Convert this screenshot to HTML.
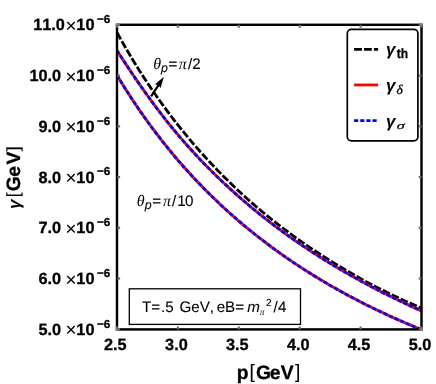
<!DOCTYPE html>
<html><head><meta charset="utf-8">
<style>
html,body{margin:0;padding:0;background:#fff;overflow:hidden;}
svg{display:block;will-change:transform;}
text{font-family:"Liberation Sans",sans-serif;fill:#000;text-rendering:geometricPrecision;font-kerning:none;}
</style></head><body>
<svg width="436" height="384" viewBox="0 0 436 384">
<rect width="436" height="384" fill="#fff"/>
<clipPath id="cp"><rect x="117" y="24" width="305" height="306"/></clipPath>
<g clip-path="url(#cp)" fill="none">
<path d="M117.00,32.54 L120.85,39.47 L124.71,46.22 L128.56,52.81 L132.42,59.25 L136.27,65.53 L140.13,71.66 L143.98,77.66 L147.84,83.51 L151.69,89.24 L155.54,94.83 L159.40,100.31 L163.25,105.66 L167.11,110.90 L170.96,116.02 L174.82,121.04 L178.67,125.95 L182.53,130.76 L186.38,135.47 L190.23,140.09 L194.09,144.61 L197.94,149.04 L201.80,153.38 L205.65,157.64 L209.51,161.82 L213.36,165.91 L217.22,169.93 L221.07,173.87 L224.92,177.74 L228.78,181.53 L232.63,185.26 L236.49,188.91 L240.34,192.50 L244.20,196.02 L248.05,199.48 L251.91,202.88 L255.76,206.22 L259.61,209.50 L263.47,212.72 L267.32,215.88 L271.18,218.98 L275.03,222.03 L278.89,225.04 L282.74,227.99 L286.59,230.89 L290.45,233.75 L294.30,236.55 L298.16,239.32 L302.01,242.03 L305.87,244.71 L309.72,247.34 L313.58,249.94 L317.43,252.49 L321.28,255.00 L325.14,257.48 L328.99,259.92 L332.85,262.32 L336.70,264.69 L340.56,267.01 L344.41,269.31 L348.27,271.57 L352.12,273.79 L355.97,275.98 L359.83,278.14 L363.68,280.27 L367.54,282.36 L371.39,284.41 L375.25,286.42 L379.10,288.41 L382.96,290.36 L386.81,292.28 L390.66,294.17 L394.52,296.03 L398.37,297.86 L402.23,299.66 L406.08,301.42 L409.94,303.15 L413.79,304.86 L417.65,306.54 L421.50,308.19" stroke="#000" stroke-width="2.8" stroke-dasharray="7.8 2.1"/>
<path d="M117.00,75.17 L120.85,81.53 L124.71,87.74 L128.56,93.80 L132.42,99.72 L136.27,105.49 L140.13,111.13 L143.98,116.64 L147.84,122.02 L151.69,127.28 L155.54,132.43 L159.40,137.46 L163.25,142.38 L167.11,147.19 L170.96,151.91 L174.82,156.52 L178.67,161.04 L182.53,165.46 L186.38,169.80 L190.23,174.05 L194.09,178.21 L197.94,182.29 L201.80,186.29 L205.65,190.21 L209.51,194.05 L213.36,197.82 L217.22,201.52 L221.07,205.15 L224.92,208.71 L228.78,212.21 L232.63,215.64 L236.49,219.01 L240.34,222.32 L244.20,225.57 L248.05,228.76 L251.91,231.89 L255.76,234.97 L259.61,238.00 L263.47,240.98 L267.32,243.90 L271.18,246.78 L275.03,249.61 L278.89,252.39 L282.74,255.12 L286.59,257.82 L290.45,260.46 L294.30,263.06 L298.16,265.62 L302.01,268.14 L305.87,270.61 L309.72,273.05 L313.58,275.45 L317.43,277.81 L321.28,280.13 L325.14,282.42 L328.99,284.67 L332.85,286.89 L336.70,289.07 L340.56,291.22 L344.41,293.34 L348.27,295.42 L352.12,297.48 L355.97,299.50 L359.83,301.50 L363.68,303.47 L367.54,305.40 L371.39,307.30 L375.25,309.18 L379.10,311.02 L382.96,312.84 L386.81,314.63 L390.66,316.40 L394.52,318.14 L398.37,319.86 L402.23,321.55 L406.08,323.21 L409.94,324.86 L413.79,326.47 L417.65,328.07 L421.50,329.64" stroke="#f00" stroke-width="2.8"/>
<path d="M117.00,75.17 L120.85,81.53 L124.71,87.74 L128.56,93.80 L132.42,99.72 L136.27,105.49 L140.13,111.13 L143.98,116.64 L147.84,122.02 L151.69,127.28 L155.54,132.43 L159.40,137.46 L163.25,142.38 L167.11,147.19 L170.96,151.91 L174.82,156.52 L178.67,161.04 L182.53,165.46 L186.38,169.80 L190.23,174.05 L194.09,178.21 L197.94,182.29 L201.80,186.29 L205.65,190.21 L209.51,194.05 L213.36,197.82 L217.22,201.52 L221.07,205.15 L224.92,208.71 L228.78,212.21 L232.63,215.64 L236.49,219.01 L240.34,222.32 L244.20,225.57 L248.05,228.76 L251.91,231.89 L255.76,234.97 L259.61,238.00 L263.47,240.98 L267.32,243.90 L271.18,246.78 L275.03,249.61 L278.89,252.39 L282.74,255.12 L286.59,257.82 L290.45,260.46 L294.30,263.06 L298.16,265.62 L302.01,268.14 L305.87,270.61 L309.72,273.05 L313.58,275.45 L317.43,277.81 L321.28,280.13 L325.14,282.42 L328.99,284.67 L332.85,286.89 L336.70,289.07 L340.56,291.22 L344.41,293.34 L348.27,295.42 L352.12,297.48 L355.97,299.50 L359.83,301.50 L363.68,303.47 L367.54,305.40 L371.39,307.30 L375.25,309.18 L379.10,311.02 L382.96,312.84 L386.81,314.63 L390.66,316.40 L394.52,318.14 L398.37,319.86 L402.23,321.55 L406.08,323.21 L409.94,324.86 L413.79,326.47 L417.65,328.07 L421.50,329.64" stroke="#00f" stroke-width="2.8" stroke-dasharray="4.1 2.05"/>
<path d="M117.00,50.38 L120.85,56.43 L124.71,62.37 L128.56,68.23 L132.42,74.00 L136.27,79.65 L140.13,85.19 L143.98,90.65 L147.84,96.06 L151.69,101.38 L155.54,106.58 L159.40,111.68 L163.25,116.66 L167.11,121.55 L170.96,126.33 L174.82,131.01 L178.67,135.60 L182.53,140.09 L186.38,144.49 L190.23,148.80 L194.09,153.02 L197.94,157.17 L201.80,161.23 L205.65,165.21 L209.51,169.12 L213.36,172.95 L217.22,176.72 L221.07,180.43 L224.92,184.07 L228.78,187.64 L232.63,191.15 L236.49,194.60 L240.34,197.98 L244.20,201.31 L248.05,204.59 L251.91,207.81 L255.76,210.98 L259.61,214.10 L263.47,217.17 L267.32,220.18 L271.18,223.15 L275.03,226.07 L278.89,228.95 L282.74,231.78 L286.59,234.57 L290.45,237.32 L294.30,240.03 L298.16,242.69 L302.01,245.31 L305.87,247.90 L309.72,250.45 L313.58,252.96 L317.43,255.43 L321.28,257.87 L325.14,260.28 L328.99,262.65 L332.85,264.98 L336.70,267.29 L340.56,269.56 L344.41,271.80 L348.27,274.02 L352.12,276.20 L355.97,278.35 L359.83,280.47 L363.68,282.57 L367.54,284.63 L371.39,286.67 L375.25,288.68 L379.10,290.67 L382.96,292.63 L386.81,294.56 L390.66,296.47 L394.52,298.35 L398.37,300.21 L402.23,302.05 L406.08,303.86 L409.94,305.64 L413.79,307.41 L417.65,309.15 L421.50,310.88" stroke="#f00" stroke-width="2.8"/>
<path d="M117.00,50.38 L120.85,56.43 L124.71,62.37 L128.56,68.23 L132.42,74.00 L136.27,79.65 L140.13,85.19 L143.98,90.65 L147.84,96.06 L151.69,101.38 L155.54,106.58 L159.40,111.68 L163.25,116.66 L167.11,121.55 L170.96,126.33 L174.82,131.01 L178.67,135.60 L182.53,140.09 L186.38,144.49 L190.23,148.80 L194.09,153.02 L197.94,157.17 L201.80,161.23 L205.65,165.21 L209.51,169.12 L213.36,172.95 L217.22,176.72 L221.07,180.43 L224.92,184.07 L228.78,187.64 L232.63,191.15 L236.49,194.60 L240.34,197.98 L244.20,201.31 L248.05,204.59 L251.91,207.81 L255.76,210.98 L259.61,214.10 L263.47,217.17 L267.32,220.18 L271.18,223.15 L275.03,226.07 L278.89,228.95 L282.74,231.78 L286.59,234.57 L290.45,237.32 L294.30,240.03 L298.16,242.69 L302.01,245.31 L305.87,247.90 L309.72,250.45 L313.58,252.96 L317.43,255.43 L321.28,257.87 L325.14,260.28 L328.99,262.65 L332.85,264.98 L336.70,267.29 L340.56,269.56 L344.41,271.80 L348.27,274.02 L352.12,276.20 L355.97,278.35 L359.83,280.47 L363.68,282.57 L367.54,284.63 L371.39,286.67 L375.25,288.68 L379.10,290.67 L382.96,292.63 L386.81,294.56 L390.66,296.47 L394.52,298.35 L398.37,300.21 L402.23,302.05 L406.08,303.86 L409.94,305.64 L413.79,307.41 L417.65,309.15 L421.50,310.88" stroke="#00f" stroke-width="2.8" stroke-dasharray="4.1 2.05"/>
</g>
<!-- frame -->
<rect x="117" y="24.8" width="304.5" height="304.6" fill="none" stroke="#000" stroke-width="2.45"/>
<rect x="115.9" y="326.5" width="2.2" height="2.9" fill="#6c6c6c"/>
<rect x="115.9" y="24.8" width="2.2" height="2.9" fill="#6c6c6c"/>
<rect x="176.8" y="326.5" width="2.2" height="2.9" fill="#6c6c6c"/>
<rect x="176.8" y="24.8" width="2.2" height="2.9" fill="#6c6c6c"/>
<rect x="237.7" y="326.5" width="2.2" height="2.9" fill="#6c6c6c"/>
<rect x="237.7" y="24.8" width="2.2" height="2.9" fill="#6c6c6c"/>
<rect x="298.6" y="326.5" width="2.2" height="2.9" fill="#6c6c6c"/>
<rect x="298.6" y="24.8" width="2.2" height="2.9" fill="#6c6c6c"/>
<rect x="359.5" y="326.5" width="2.2" height="2.9" fill="#6c6c6c"/>
<rect x="359.5" y="24.8" width="2.2" height="2.9" fill="#6c6c6c"/>
<rect x="420.4" y="326.5" width="2.2" height="2.9" fill="#6c6c6c"/>
<rect x="420.4" y="24.8" width="2.2" height="2.9" fill="#6c6c6c"/>
<rect x="117.3" y="328.2" width="2.8" height="2.2" fill="#6c6c6c"/>
<rect x="418.7" y="328.2" width="2.8" height="2.2" fill="#6c6c6c"/>
<rect x="117.3" y="277.4" width="2.8" height="2.2" fill="#6c6c6c"/>
<rect x="418.7" y="277.4" width="2.8" height="2.2" fill="#6c6c6c"/>
<rect x="117.3" y="226.7" width="2.8" height="2.2" fill="#6c6c6c"/>
<rect x="418.7" y="226.7" width="2.8" height="2.2" fill="#6c6c6c"/>
<rect x="117.3" y="176.0" width="2.8" height="2.2" fill="#6c6c6c"/>
<rect x="418.7" y="176.0" width="2.8" height="2.2" fill="#6c6c6c"/>
<rect x="117.3" y="125.2" width="2.8" height="2.2" fill="#6c6c6c"/>
<rect x="418.7" y="125.2" width="2.8" height="2.2" fill="#6c6c6c"/>
<rect x="117.3" y="74.5" width="2.8" height="2.2" fill="#6c6c6c"/>
<rect x="418.7" y="74.5" width="2.8" height="2.2" fill="#6c6c6c"/>
<rect x="117.3" y="23.7" width="2.8" height="2.2" fill="#6c6c6c"/>
<rect x="418.7" y="23.7" width="2.8" height="2.2" fill="#6c6c6c"/>
<rect x="115.75" y="23.60" width="2.5" height="2.4" fill="#808080"/>
<rect x="420.25" y="23.60" width="2.5" height="2.4" fill="#808080"/>
<rect x="115.75" y="328.20" width="2.5" height="2.4" fill="#808080"/>
<rect x="420.25" y="328.20" width="2.5" height="2.4" fill="#808080"/>
<text x="38.51" y="334.90" style="font-weight:bold;stroke:#000;stroke-width:0.3px;font-size:16.3px" >5.0</text>
<text x="65.41" y="336.40" style="stroke:#000;stroke-width:0.08px;font-size:18.8px" stroke="#000" stroke-width="0.35">×</text>
<text x="76.37" y="334.90" style="font-weight:bold;stroke:#000;stroke-width:0.3px;font-size:16.3px" >10</text>
<text x="97.02" y="327.50" style="font-weight:bold;stroke:#000;stroke-width:0.3px;font-size:11.6px" >−6</text>
<text x="38.51" y="284.15" style="font-weight:bold;stroke:#000;stroke-width:0.3px;font-size:16.3px" >6.0</text>
<text x="65.41" y="285.65" style="stroke:#000;stroke-width:0.08px;font-size:18.8px" stroke="#000" stroke-width="0.35">×</text>
<text x="76.37" y="284.15" style="font-weight:bold;stroke:#000;stroke-width:0.3px;font-size:16.3px" >10</text>
<text x="97.02" y="276.75" style="font-weight:bold;stroke:#000;stroke-width:0.3px;font-size:11.6px" >−6</text>
<text x="38.51" y="233.40" style="font-weight:bold;stroke:#000;stroke-width:0.3px;font-size:16.3px" >7.0</text>
<text x="65.41" y="234.90" style="stroke:#000;stroke-width:0.08px;font-size:18.8px" stroke="#000" stroke-width="0.35">×</text>
<text x="76.37" y="233.40" style="font-weight:bold;stroke:#000;stroke-width:0.3px;font-size:16.3px" >10</text>
<text x="97.02" y="226.00" style="font-weight:bold;stroke:#000;stroke-width:0.3px;font-size:11.6px" >−6</text>
<text x="38.51" y="182.65" style="font-weight:bold;stroke:#000;stroke-width:0.3px;font-size:16.3px" >8.0</text>
<text x="65.41" y="184.15" style="stroke:#000;stroke-width:0.08px;font-size:18.8px" stroke="#000" stroke-width="0.35">×</text>
<text x="76.37" y="182.65" style="font-weight:bold;stroke:#000;stroke-width:0.3px;font-size:16.3px" >10</text>
<text x="97.02" y="175.25" style="font-weight:bold;stroke:#000;stroke-width:0.3px;font-size:11.6px" >−6</text>
<text x="38.51" y="131.90" style="font-weight:bold;stroke:#000;stroke-width:0.3px;font-size:16.3px" >9.0</text>
<text x="65.41" y="133.40" style="stroke:#000;stroke-width:0.08px;font-size:18.8px" stroke="#000" stroke-width="0.35">×</text>
<text x="76.37" y="131.90" style="font-weight:bold;stroke:#000;stroke-width:0.3px;font-size:16.3px" >10</text>
<text x="97.02" y="124.50" style="font-weight:bold;stroke:#000;stroke-width:0.3px;font-size:11.6px" >−6</text>
<text x="29.44" y="81.15" style="font-weight:bold;stroke:#000;stroke-width:0.3px;font-size:16.3px" >10.0</text>
<text x="65.41" y="82.65" style="stroke:#000;stroke-width:0.08px;font-size:18.8px" stroke="#000" stroke-width="0.35">×</text>
<text x="76.37" y="81.15" style="font-weight:bold;stroke:#000;stroke-width:0.3px;font-size:16.3px" >10</text>
<text x="97.02" y="73.75" style="font-weight:bold;stroke:#000;stroke-width:0.3px;font-size:11.6px" >−6</text>
<text x="33.14" y="30.40" style="font-weight:bold;stroke:#000;stroke-width:0.3px;font-size:16.3px" >11.0</text>
<text x="65.41" y="31.90" style="stroke:#000;stroke-width:0.08px;font-size:18.8px" stroke="#000" stroke-width="0.35">×</text>
<text x="76.37" y="30.40" style="font-weight:bold;stroke:#000;stroke-width:0.3px;font-size:16.3px" >10</text>
<text x="97.02" y="23.00" style="font-weight:bold;stroke:#000;stroke-width:0.3px;font-size:11.6px" >−6</text>
<text x="104.01" y="349.60" style="font-weight:bold;stroke:#000;stroke-width:0.3px;font-size:16.3px" >2.5</text>
<text x="165.12" y="349.60" style="font-weight:bold;stroke:#000;stroke-width:0.3px;font-size:16.3px" >3.0</text>
<text x="225.91" y="349.60" style="font-weight:bold;stroke:#000;stroke-width:0.3px;font-size:16.3px" >3.5</text>
<text x="286.98" y="349.60" style="font-weight:bold;stroke:#000;stroke-width:0.3px;font-size:16.3px" >4.0</text>
<text x="347.77" y="349.60" style="font-weight:bold;stroke:#000;stroke-width:0.3px;font-size:16.3px" >4.5</text>
<text x="408.65" y="349.60" style="font-weight:bold;stroke:#000;stroke-width:0.3px;font-size:16.3px" >5.0</text>
<text x="236.63" y="378.80" style="font-weight:bold;stroke:#000;stroke-width:0.3px;font-size:19.3px" >p</text>
<text x="249.52" y="378.40" style="stroke:#000;stroke-width:0.08px;font-size:19.3px" >[</text>
<text x="256.11" y="378.80" style="font-weight:bold;stroke:#000;stroke-width:0.3px;font-size:19.3px" >G</text>
<text x="269.85" y="378.80" style="font-weight:bold;stroke:#000;stroke-width:0.3px;font-size:19.3px" >e</text>
<text x="280.77" y="378.80" style="font-weight:bold;stroke:#000;stroke-width:0.3px;font-size:19.3px" >V</text>
<text x="294.91" y="378.40" style="stroke:#000;stroke-width:0.08px;font-size:19.3px" >]</text>
<g transform="translate(0,208) rotate(-90)">
<text x="10.85" y="19.20" style="stroke:#000;stroke-width:0.08px;font-size:17.6px" >[</text>
<text x="16.81" y="19.80" style="font-weight:bold;stroke:#000;stroke-width:0.3px;font-size:19.3px" >G</text>
<text x="31.25" y="19.80" style="font-weight:bold;stroke:#000;stroke-width:0.3px;font-size:19.3px" >e</text>
<text x="43.47" y="19.80" style="font-weight:bold;stroke:#000;stroke-width:0.3px;font-size:19.3px" >V</text>
<text x="56.66" y="19.20" style="stroke:#000;stroke-width:0.08px;font-size:17.6px" >]</text>
</g>
<g transform="translate(11.1,209.05) rotate(-90)"><text x="0" y="8.8" style="font-weight:bold;font-style:italic;font-size:17px">γ</text></g>
<!-- legend -->
<rect x="347.3" y="29.4" width="70.6" height="111.4" rx="4" ry="4" fill="#fff" stroke="#000" stroke-width="1.7"/>
<line x1="354.1" y1="49.45" x2="378.1" y2="49.45" stroke="#000" stroke-width="2.8" stroke-dasharray="7.8 2.1"/>
<line x1="354.1" y1="84.95" x2="378.1" y2="84.95" stroke="#f00" stroke-width="2.8"/>
<line x1="354.1" y1="120.55" x2="378.1" y2="120.55" stroke="#00f" stroke-width="2.8" stroke-dasharray="4.1 2.05"/>
<text x="386.1" y="55.3" style="font-weight:bold;font-style:italic;font-size:17px">γ</text><text transform="translate(396.85,57.70) scale(0.88,1.0)" style="font-weight:bold;stroke:#000;stroke-width:0.3px;font-size:13.6px" >th</text>
<text x="386.1" y="90.9" style="font-weight:bold;font-style:italic;font-size:17px">γ</text><text x="396.51" y="93.80" style="font-family:'Liberation Serif',serif;font-style:italic;font-size:13.4px" stroke="#000" stroke-width="0.3">δ</text>
<text x="386.1" y="126.7" style="font-weight:bold;font-style:italic;font-size:17px">γ</text><text transform="translate(396.72,128.60) scale(1.2,0.8)" style="font-family:'Liberation Serif',serif;font-style:italic;font-size:13.4px" stroke="#000" stroke-width="0.3">σ</text>
<!-- annotations -->
<text x="153.22" y="69.20" style="font-family:'Liberation Serif',serif;font-style:italic;font-size:16px" >θ</text><text x="161.11" y="71.90" style="font-style:italic;stroke:#000;stroke-width:0.08px;font-size:12.4px" >p</text><text x="168.46" y="69.20" style="stroke:#000;stroke-width:0.08px;font-size:15.2px" >=</text><text x="178.81" y="69.20" style="font-family:'Liberation Serif',serif;font-style:italic;font-size:16px" >π</text><text x="188.00" y="69.20" style="stroke:#000;stroke-width:0.08px;font-size:15.2px" >/</text><text x="192.14" y="69.20" style="stroke:#000;stroke-width:0.08px;font-size:15.2px" >2</text>
<text x="136.72" y="206.20" style="font-family:'Liberation Serif',serif;font-style:italic;font-size:16px" >θ</text><text x="144.71" y="208.90" style="font-style:italic;stroke:#000;stroke-width:0.08px;font-size:12.4px" >p</text><text x="152.36" y="206.20" style="stroke:#000;stroke-width:0.08px;font-size:15.2px" >=</text><text x="163.01" y="206.20" style="font-family:'Liberation Serif',serif;font-style:italic;font-size:16px" >π</text><text x="172.00" y="206.20" style="stroke:#000;stroke-width:0.08px;font-size:15.2px" >/</text><text x="177.24" y="206.20" style="stroke:#000;stroke-width:0.08px;font-size:15.2px" >1</text><text x="185.01" y="206.20" style="stroke:#000;stroke-width:0.08px;font-size:15.2px" >0</text>
<!-- arrow -->
<line x1="151.1" y1="96.4" x2="158.6" y2="84.9" stroke="#000" stroke-width="2.2"/>
<path d="M163.9,76.7 L160.6,88.0 L158.3,85.3 L155.0,84.3 Z" fill="#000"/>
<!-- box -->
<rect x="129.3" y="288.8" width="171.2" height="35.6" fill="#fff" stroke="#000" stroke-width="1.3"/>
<text x="141.96" y="312.40" style="stroke:#000;stroke-width:0.08px;font-size:15.2px" >T=</text><text x="161.11" y="312.40" style="stroke:#000;stroke-width:0.08px;font-size:15.2px" >.5</text><text x="179.44" y="312.40" style="stroke:#000;stroke-width:0.08px;font-size:15.2px" >GeV,</text><text x="216.65" y="312.40" style="stroke:#000;stroke-width:0.08px;font-size:15.2px" >eB=</text><text x="247.25" y="312.40" style="font-style:italic;stroke:#000;stroke-width:0.08px;font-size:15.2px" >m</text><text x="259.65" y="315.40" style="font-family:'Liberation Serif',serif;font-style:italic;font-size:9.5px" >π</text><text x="265.99" y="305.60" style="stroke:#000;stroke-width:0.08px;font-size:10.2px" >2</text><text x="273.40" y="312.40" style="stroke:#000;stroke-width:0.08px;font-size:15.2px" >/</text><text x="277.95" y="312.40" style="stroke:#000;stroke-width:0.08px;font-size:15.2px" >4</text>
</svg>
</body></html>
